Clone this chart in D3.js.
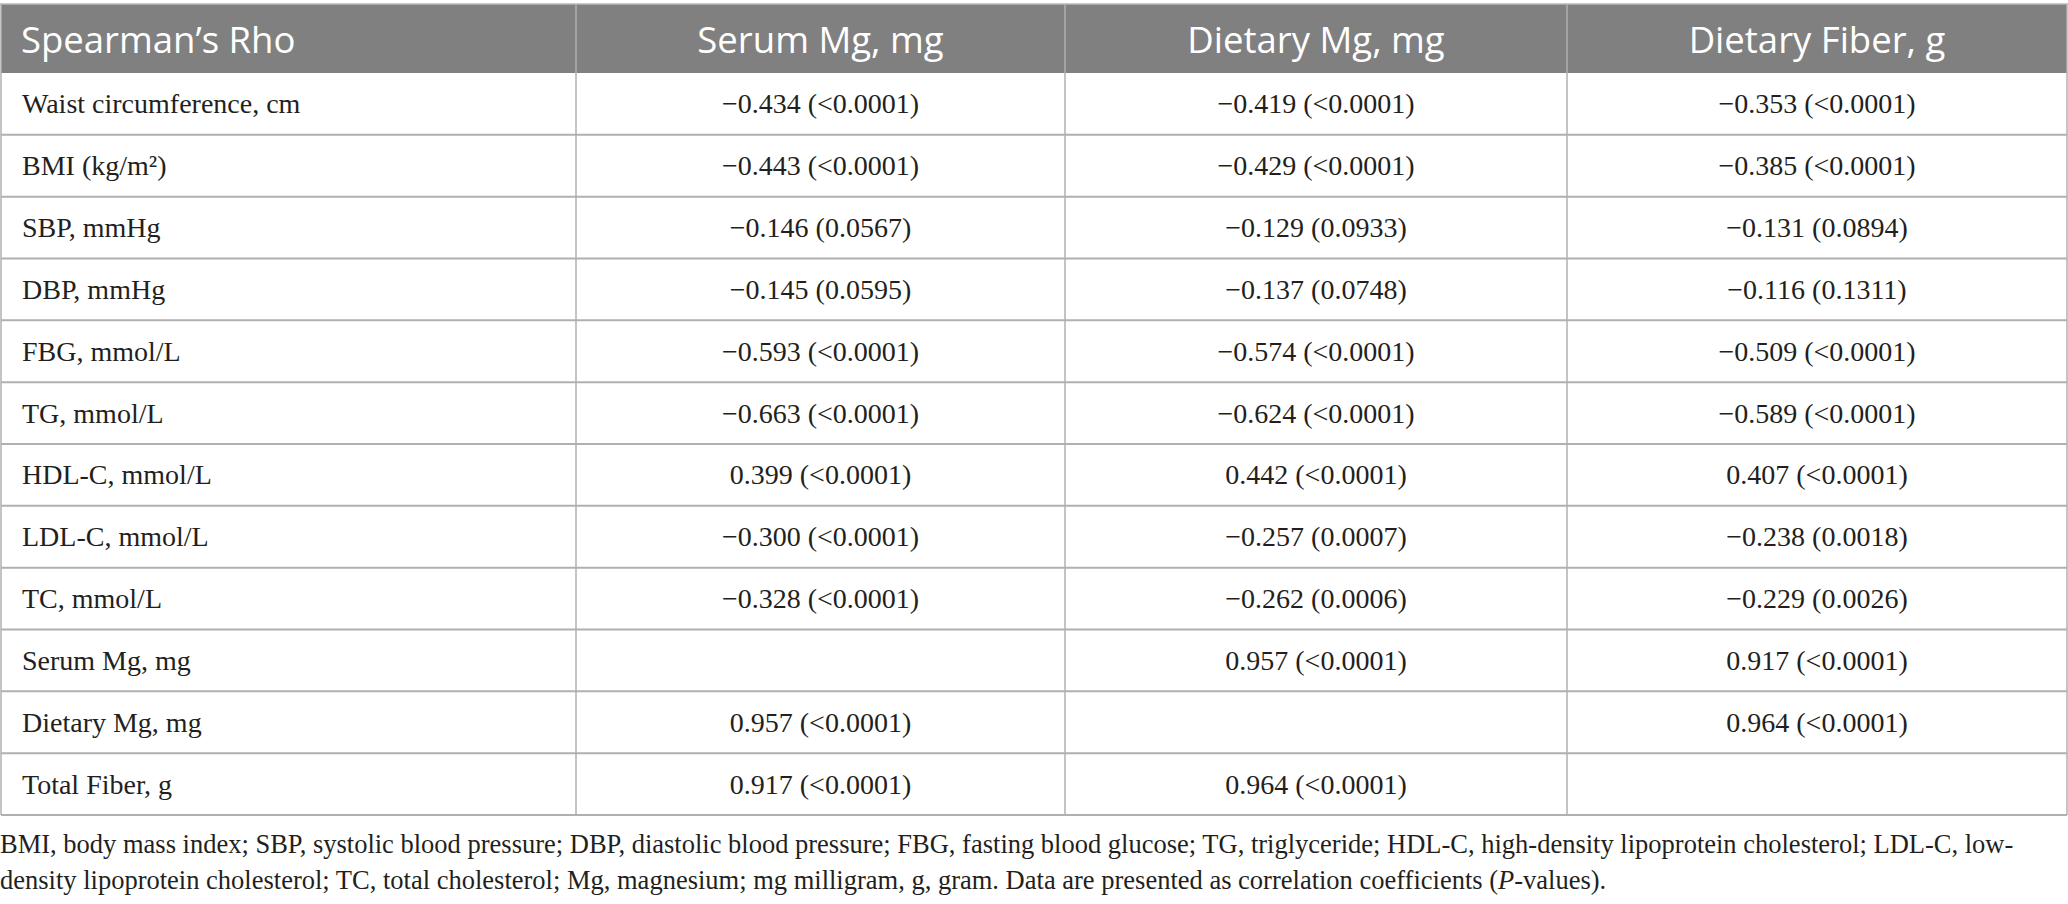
<!DOCTYPE html>
<html>
<head>
<meta charset="utf-8">
<script src="https://cdn.jsdelivr.net/npm/d3@7"></script>
<style>
  html, body { margin: 0; padding: 0; background: #ffffff; }
  svg { display: block; }
</style>
</head>
<body>
<svg id="chart" width="2068" height="904"></svg>
<script>
// ---- data ----
const headerLabels = ["Spearman\u2019s Rho", "Serum Mg, mg", "Dietary Mg, mg", "Dietary Fiber, g"];
const rowLabels = [
  "Waist circumference, cm", "BMI (kg/m\u00B2)", "SBP, mmHg", "DBP, mmHg", "FBG, mmol/L",
  "TG, mmol/L", "HDL-C, mmol/L", "LDL-C, mmol/L", "TC, mmol/L", "Serum Mg, mg",
  "Dietary Mg, mg", "Total Fiber, g"
];
const serumMg = [
  "\u22120.434 (<0.0001)", "\u22120.443 (<0.0001)", "\u22120.146 (0.0567)", "\u22120.145 (0.0595)",
  "\u22120.593 (<0.0001)", "\u22120.663 (<0.0001)", "0.399 (<0.0001)", "\u22120.300 (<0.0001)",
  "\u22120.328 (<0.0001)", "", "0.957 (<0.0001)", "0.917 (<0.0001)"
];
const dietaryMg = [
  "\u22120.419 (<0.0001)", "\u22120.429 (<0.0001)", "\u22120.129 (0.0933)", "\u22120.137 (0.0748)",
  "\u22120.574 (<0.0001)", "\u22120.624 (<0.0001)", "0.442 (<0.0001)", "\u22120.257 (0.0007)",
  "\u22120.262 (0.0006)", "0.957 (<0.0001)", "", "0.964 (<0.0001)"
];
const dietaryFiber = [
  "\u22120.353 (<0.0001)", "\u22120.385 (<0.0001)", "\u22120.131 (0.0894)", "\u22120.116 (0.1311)",
  "\u22120.509 (<0.0001)", "\u22120.589 (<0.0001)", "0.407 (<0.0001)", "\u22120.238 (0.0018)",
  "\u22120.229 (0.0026)", "0.917 (<0.0001)", "0.964 (<0.0001)", ""
];
const footnoteLine1 = "BMI, body mass index; SBP, systolic blood pressure; DBP, diastolic blood pressure; FBG, fasting blood glucose; TG, triglyceride; HDL-C, high-density lipoprotein cholesterol; LDL-C, low-";
const footnoteLine2a = "density lipoprotein cholesterol; TC, total cholesterol; Mg, magnesium; mg milligram, g, gram. Data are presented as correlation coefficients (";
const footnoteLine2b = "P";
const footnoteLine2c = "-values).";

// ---- layout ----
const svg = d3.select("#chart");
const colEdges = [1, 576, 1065, 1567, 2067];
const colKeys = d3.range(headerLabels.length);
const xLeft = d3.scaleOrdinal().domain(colKeys).range(colEdges.slice(0, 4));
const xRight = d3.scaleOrdinal().domain(colKeys).range(colEdges.slice(1));
const headerTop = 4, headerBottom = 73, tableBottom = 815;
const y = d3.scaleBand().domain(d3.range(rowLabels.length)).range([headerBottom, tableBottom]);

const serif = "'Liberation Serif', 'Times New Roman', serif";
const sans = "'Open Sans', 'Noto Sans', sans-serif";
const textColor = "#231f20";

// header
svg.append("rect").attr("x", colEdges[0]).attr("y", headerTop)
  .attr("width", colEdges[4] - colEdges[0]).attr("height", headerBottom - headerTop)
  .attr("fill", "#808080");
svg.append("line").attr("x1", 0).attr("x2", 2068).attr("y1", headerTop).attr("y2", headerTop)
  .attr("stroke", "#b8b8b8").attr("stroke-width", 1.5);

svg.selectAll("text.hdr").data(headerLabels).join("text")
  .attr("class", "hdr")
  .attr("x", (d, i) => i === 0 ? 21 : (xLeft(i) + xRight(i)) / 2)
  .attr("y", 53)
  .attr("text-anchor", (d, i) => i === 0 ? "start" : "middle")
  .attr("font-family", sans).attr("font-size", 36.5).attr("fill", "#ffffff")
  .text(d => d);

// body grid
const rows = rowLabels.map((lab, i) => ({ i, cells: [lab, serumMg[i], dietaryMg[i], dietaryFiber[i]] }));

svg.selectAll("line.hline").data(d3.range(1, rowLabels.length + 1)).join("line")
  .attr("class", "hline")
  .attr("x1", colEdges[0]).attr("x2", colEdges[4])
  .attr("y1", d => d < rowLabels.length ? y(d) : tableBottom)
  .attr("y2", d => d < rowLabels.length ? y(d) : tableBottom)
  .attr("stroke", "#b0b0b0").attr("stroke-width", 2);

svg.selectAll("line.vline").data(colEdges).join("line")
  .attr("class", "vline")
  .attr("x1", d => d).attr("x2", d => d)
  .attr("y1", headerTop)
  .attr("y2", tableBottom)
  .attr("stroke", "#b0b0b0").attr("stroke-width", 1.5);

// cells
const rowG = svg.selectAll("g.row").data(rows).join("g").attr("class", "row")
  .attr("transform", d => `translate(0,${y(d.i) + y.bandwidth() / 2})`);

rowG.selectAll("text").data(d => d.cells.map((c, j) => ({ c, j }))).join("text")
  .attr("x", d => d.j === 0 ? 22 : (xLeft(d.j) + xRight(d.j)) / 2)
  .attr("y", 9.5)
  .attr("text-anchor", d => d.j === 0 ? "start" : "middle")
  .attr("font-family", serif).attr("font-size", 28).attr("fill", textColor)
  .text(d => d.c);

// footnote
svg.append("text").attr("x", 0).attr("y", 853)
  .attr("font-family", serif).attr("font-size", 26.5).attr("fill", textColor)
  .text(footnoteLine1);
const fn2 = svg.append("text").attr("x", 0).attr("y", 889)
  .attr("font-family", serif).attr("font-size", 26.5).attr("fill", textColor);
fn2.append("tspan").text(footnoteLine2a);
fn2.append("tspan").attr("font-style", "italic").text(footnoteLine2b);
fn2.append("tspan").text(footnoteLine2c);
</script>
</body>
</html>
